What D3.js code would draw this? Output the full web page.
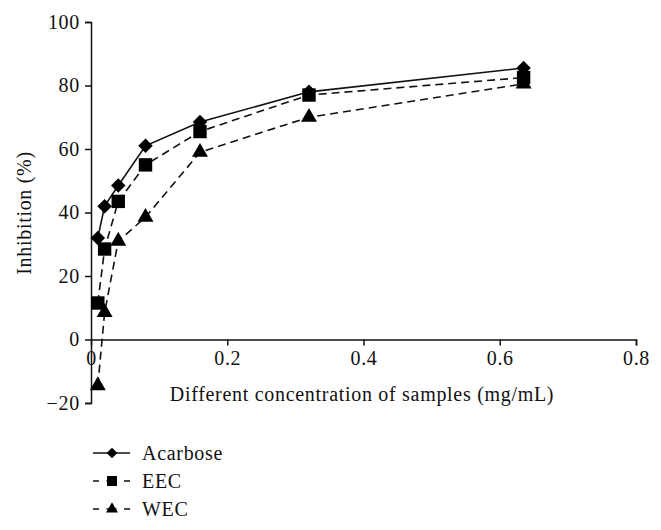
<!DOCTYPE html>
<html>
<head>
<meta charset="utf-8">
<script src="https://cdn.jsdelivr.net/npm/d3@7"></script>
<style>
  body { margin: 0; background: #fff; }
  text { font-family: "Liberation Serif", "DejaVu Serif", serif; fill: #111; }
</style>
</head>
<body>
<div id="container"></div>
<script>
const WIDTH = 661;
const HEIGHT = 530;

// data
const concentrations = [0.01, 0.02, 0.04, 0.08, 0.16, 0.32, 0.635];
const acarbose = [32, 42, 48.5, 61, 68.5, 78, 85.5];
const eec = [11.5, 28.5, 43.5, 55, 65.5, 77, 82.5];
const wec = [-14.5, 8.5, 31, 38.5, 59, 70, 80.5];
const seriesNames = ['Acarbose', 'EEC', 'WEC'];
const xTicks = [0, 0.2, 0.4, 0.6, 0.8];
const yTicks = [-20, 0, 20, 40, 60, 80, 100];

const series = [
    { name: seriesNames[0], values: acarbose, shape: 'diamond', dash: null },
    { name: seriesNames[1], values: eec, shape: 'square', dash: '8,5' },
    { name: seriesNames[2], values: wec, shape: 'triangle', dash: '8,5' }
];

const X0 = 91, X1 = 636;
const Y0 = 403, Y1 = 22;
const FONT = '20px';
const SPACING = '0.7px';

const xscale = d3.scaleLinear().domain([0, 0.8]).range([X0, X1]);
const yscale = d3.scaleLinear().domain([-20, 100]).range([Y0, Y1]);

const svg = d3.select('#container')
              .append('svg')
                .attr('width', WIDTH)
                .attr('height', HEIGHT);

const marker = (shape, k) => {
    if (shape === 'diamond') return d3.symbol().type(d3.symbolSquare).size(105 * k)();
    if (shape === 'square') return d3.symbol().type(d3.symbolSquare).size(180 * k)();
    return d3.symbol().type(d3.symbolTriangle).size(110 * k)();
};

// axes
const xAxis = svg.append('g')
                 .attr('transform', `translate(0, ${yscale(0)})`)
                 .call(d3.axisBottom(xscale).tickValues(xTicks).tickFormat(d => d).tickSizeOuter(0).tickSize(6));
const yAxis = svg.append('g')
                 .attr('transform', `translate(${X0}, 0)`)
                 .call(d3.axisLeft(yscale).tickValues(yTicks).tickSizeOuter(0).tickSize(6));

[xAxis, yAxis].forEach(a => {
    a.select('.domain').attr('stroke', '#111').attr('stroke-width', 1.5);
    a.selectAll('.tick line').attr('stroke', '#111').attr('stroke-width', 1.5);
    a.selectAll('.tick text')
     .style('font-family', '"Liberation Serif", serif')
     .style('font-size', FONT)
     .style('letter-spacing', SPACING)
     .attr('fill', '#111');
});
xAxis.selectAll('.tick text').attr('dy', '0.71em').attr('y', 11);
yAxis.selectAll('.tick text').attr('x', -11);
xAxis.selectAll('.tick').filter(d => d === 0).select('line').remove();

// titles
svg.append('text')
   .attr('x', 362)
   .attr('y', 401)
   .attr('text-anchor', 'middle')
   .style('font-size', FONT)
   .style('letter-spacing', SPACING)
   .text('Different concentration of samples (mg/mL)');

svg.append('text')
   .attr('transform', 'translate(31, 213) rotate(-90)')
   .attr('text-anchor', 'middle')
   .style('font-size', FONT)
   .style('letter-spacing', SPACING)
   .text('Inhibition (%)');

// lines and markers
const line = d3.line()
               .x((d, i) => xscale(concentrations[i]))
               .y(d => yscale(d));

series.forEach(s => {
    svg.append('path')
       .datum(s.values)
       .attr('d', line)
       .attr('fill', 'none')
       .attr('stroke', '#111')
       .attr('stroke-width', 1.6)
       .attr('stroke-dasharray', s.dash);
});

series.forEach(s => {
    svg.append('g')
       .selectAll('path')
       .data(s.values)
       .enter()
       .append('path')
         .attr('d', marker(s.shape, 1))
         .attr('transform', (d, i) => `translate(${xscale(concentrations[i])}, ${yscale(d)})` + (s.shape === 'diamond' ? ' rotate(45)' : ''))
         .attr('fill', '#000');
});

// legend
const legend = svg.append('g')
                  .attr('transform', 'translate(93, 453)');

const items = legend.selectAll('g')
                    .data(series)
                    .enter()
                    .append('g')
                      .attr('transform', (d, i) => `translate(0, ${i * 28})`);

items.append('line')
     .attr('x1', 0)
     .attr('x2', 37)
     .attr('stroke', '#111')
     .attr('stroke-width', 1.6)
     .attr('stroke-dasharray', d => d.dash ? '6,7.5,10,7.5,6' : null);

items.append('path')
     .attr('d', d => marker(d.shape, 0.55))
     .attr('transform', d => 'translate(19, 0)' + (d.shape === 'diamond' ? ' rotate(45)' : ''))
     .attr('fill', '#000');

items.append('text')
     .attr('x', 49)
     .attr('dy', '0.35em')
     .style('font-size', FONT)
     .style('letter-spacing', SPACING)
     .text(d => d.name);
</script>
</body>
</html>
